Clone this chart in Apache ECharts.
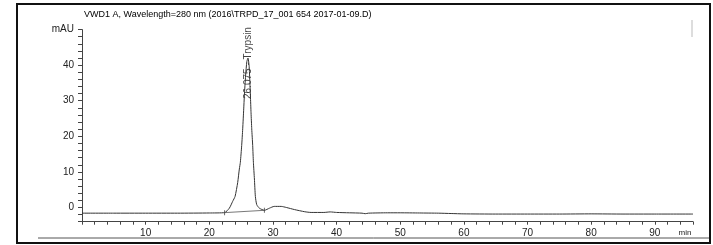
<!DOCTYPE html>
<html><head><meta charset="utf-8">
<script src="https://cdn.jsdelivr.net/npm/echarts@6/dist/echarts.min.js"></script>
<style>html,body{margin:0;padding:0;background:#fff}#c{width:713px;height:245px}</style>
</head><body><div id="c"></div>
<script>
const titleText = 'VWD1 A, Wavelength=280 nm (2016\\TRPD_17_001 654 2017-01-09.D)';
const times  = [0,5,10,15,20,22.4,23.15,23.67,24.05,24.46,24.72,24.88,25.09,25.25,25.41,25.51,25.7,25.9,26.075,26.25,26.38,26.46,26.56,26.67,26.82,26.93,27.09,27.24,27.45,27.87,28.66,29.45,30.2,31.3,32.1,33.4,35.0,36.0,38,39,40,42,44,44.5,45,48,50,53,56,58,60,65,70,75,80,85,90,96];
const signal = [-1.6,-1.6,-1.6,-1.6,-1.55,-1.45,-0.2,1.7,3.1,7.0,10.8,12.7,17.4,22.1,27.7,31.4,37,41,42,40,35,31.4,26.6,22.1,17.4,12.7,8.0,3.1,0.8,-0.2,-0.8,-0.2,0.3,0.3,0.0,-0.6,-1.2,-1.4,-1.4,-1.25,-1.4,-1.5,-1.6,-1.75,-1.6,-1.5,-1.5,-1.55,-1.6,-1.7,-1.8,-1.85,-1.85,-1.85,-1.8,-1.85,-1.85,-1.85];
const baseTimes  = [22.4, 28.66];
const baseValues = [-1.45, -0.8];
const peakRT = [26.075];
const peakNames = ['Trypsin'];
const peakLabelAt = [30.5];
const xTickLabels = [10,20,30,40,50,60,70,80,90];
const yTickLabels = [0,10,20,30,40];

const chart = echarts.init(document.getElementById('c'), null, {renderer:'canvas'});
const font = 'Liberation Sans, Arial, sans-serif';
chart.setOption({
  animation:false,
  grid:{left:82, right:20, top:29.6, bottom:23.3, containLabel:false},
  xAxis:{type:'value', min:0, max:96, interval:2,
    axisLine:{show:true, onZero:false, lineStyle:{color:'#444', width:1}},
    axisTick:{show:true, length:3, inside:false, lineStyle:{color:'#444'}},
    splitLine:{show:false},
    axisLabel:{fontFamily:font, fontSize:10, color:'#222', margin:7,
      formatter:v=> xTickLabels.includes(v) ? String(v) : ''}
  },
  yAxis:{type:'value', min:-4, max:50, interval:2,
    axisLine:{show:true, onZero:false, lineStyle:{color:'#444', width:1}},
    axisTick:{show:true, length:4, lineStyle:{color:'#444'}},
    splitLine:{show:false},
    axisLabel:{fontFamily:font, fontSize:10, color:'#222', margin:8,
      formatter:v=> v===50 ? 'mAU' : (yTickLabels.includes(v) ? String(v) : '')}
  },
  series:[
    {type:'line', data:times.map((t,i)=>[t,signal[i]]), showSymbol:false, smooth:0.2,
     lineStyle:{color:'#333', width:1}},
    {type:'line', data:baseTimes.map((t,i)=>[t,baseValues[i]]), showSymbol:false,
     lineStyle:{color:'#555', width:0.8}},
    {type:'scatter', data:baseTimes.map((t,i)=>[t,baseValues[i]]), symbol:'rect', symbolSize:[1,5],
     itemStyle:{color:'#444'}},
    {type:'scatter', data:peakRT.map((t,i)=>[t,peakLabelAt[i]]), symbolSize:0,
     label:{show:true, position:'top', distance:0, rotate:90, align:'left', verticalAlign:'middle',
       fontFamily:font, fontSize:10, color:'#111', backgroundColor:'#fff', padding:[0,0,0,0],
       formatter:p=> peakRT[p.dataIndex].toFixed(3)+' - '+peakNames[p.dataIndex]}}
  ],
  graphic:[
    {type:'rect', shape:{x:17, y:4, width:693, height:239}, style:{fill:'none', stroke:'#111', lineWidth:2}, silent:true},
    {type:'line', shape:{x1:38, y1:238, x2:709, y2:238}, style:{stroke:'#555', lineWidth:1}, silent:true},
    {type:'line', shape:{x1:692, y1:20, x2:692, y2:37}, style:{stroke:'#bbb', lineWidth:1}, silent:true},
    {type:'text', x:84, y:15, style:{text:titleText, font:'9px '+font, fill:'#000', verticalAlign:'middle'}},
    {type:'text', x:685, y:233, style:{text:'min', font:'8px '+font, fill:'#222', align:'center', verticalAlign:'middle'}}
  ]
});
</script></body></html>
